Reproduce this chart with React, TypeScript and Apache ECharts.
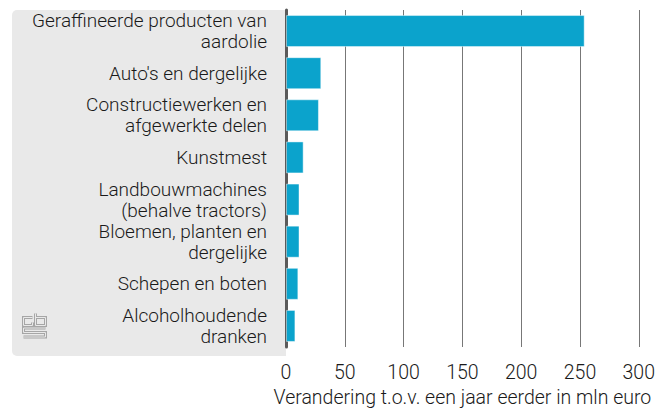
import React, { useEffect, useRef } from "react";
import * as echarts from "echarts";

const categories = [
  "Geraffineerde producten van\naardolie",
  "Auto's en dergelijke",
  "Constructiewerken en\nafgewerkte delen",
  "Kunstmest",
  "Landbouwmachines\n(behalve tractors)",
  "Bloemen, planten en\ndergelijke",
  "Schepen en boten",
  "Alcoholhoudende\ndranken",
];
const values = [254, 30, 28, 15, 11.5, 11.5, 10.5, 8];
const axisTitle = "Verandering t.o.v. een jaar eerder in mln euro";

const FONT = "Roboto";
const FS = 19.5;
const FS_Y = 19;

export default function App() {
  const ref = useRef<HTMLDivElement>(null);
  useEffect(() => {
    if (!ref.current) return;
    const chart = echarts.init(ref.current, undefined, { renderer: "svg" });
    const ox = 23.5, oy = 313.5;
    const logoLines = [
      [[9, 4], [0, 4], [0, 12], [9, 12], [9, 9]],
      [[12, 0], [12, 12], [22, 12], [22, 4], [12, 4]],
      [[22, 14.5], [0, 14.5], [0, 19], [22, 19], [22, 23.5], [0, 23.5]],
    ];
    const logo: any[] = [];
    logoLines.forEach((pts) => {
      const p = pts.map(([x, y]) => [ox + x, oy + y]);
      logo.push({ type: "polyline", shape: { points: p }, style: { stroke: "#a6a6a6", lineWidth: 3, fill: null, lineJoin: "miter" }, z: -5 });
      logo.push({ type: "polyline", shape: { points: p }, style: { stroke: "#e9e9e9", lineWidth: 1, fill: null, lineJoin: "miter" }, z: -4 });
    });
    chart.setOption({
      animation: false,
      textStyle: { fontFamily: FONT },
      grid: { left: 286, right: 16, top: 10, bottom: 56, containLabel: false },
      graphic: [
        {
          type: "rect",
          shape: { x: 12, y: 10, width: 274, height: 346, r: [5, 0, 0, 5] },
          style: { fill: "#e9e9e9" },
          z: -10,
        },
        ...logo,
      ],
      xAxis: {
        type: "value",
        min: 0,
        max: 300,
        interval: 50,
        axisLine: { show: false },
        axisTick: { show: false },
        splitLine: { show: true, lineStyle: { color: "#777", width: 1 } },
        axisLabel: { color: "#1a1a1a", fontSize: FS, fontWeight: 300, margin: 15, fontFamily: FONT },
        name: axisTitle,
        nameLocation: "middle",
        nameGap: 40,
        nameTextStyle: { color: "#1a1a1a", fontSize: FS, fontWeight: 300, fontFamily: FONT },
      },
      yAxis: {
        type: "category",
        data: categories,
        inverse: true,
        axisLine: { show: true, lineStyle: { color: "#5a5a5a", width: 3 } },
        axisTick: { show: false },
        axisLabel: { color: "#1a1a1a", fontSize: FS_Y, fontWeight: 300, lineHeight: 21, margin: 19, fontFamily: FONT, align: "right" },
      },
      series: [
        {
          type: "bar",
          data: values,
          barCategoryGap: "24%",
          itemStyle: { color: "#0ba3cc", borderColor: "rgba(255,255,255,0.45)", borderWidth: 1 },
        },
      ],
    });
    return () => chart.dispose();
  }, []);
  return <div ref={ref} style={{ width: 658, height: 412, position: "absolute", left: 0, top: 0 }} />;
}
